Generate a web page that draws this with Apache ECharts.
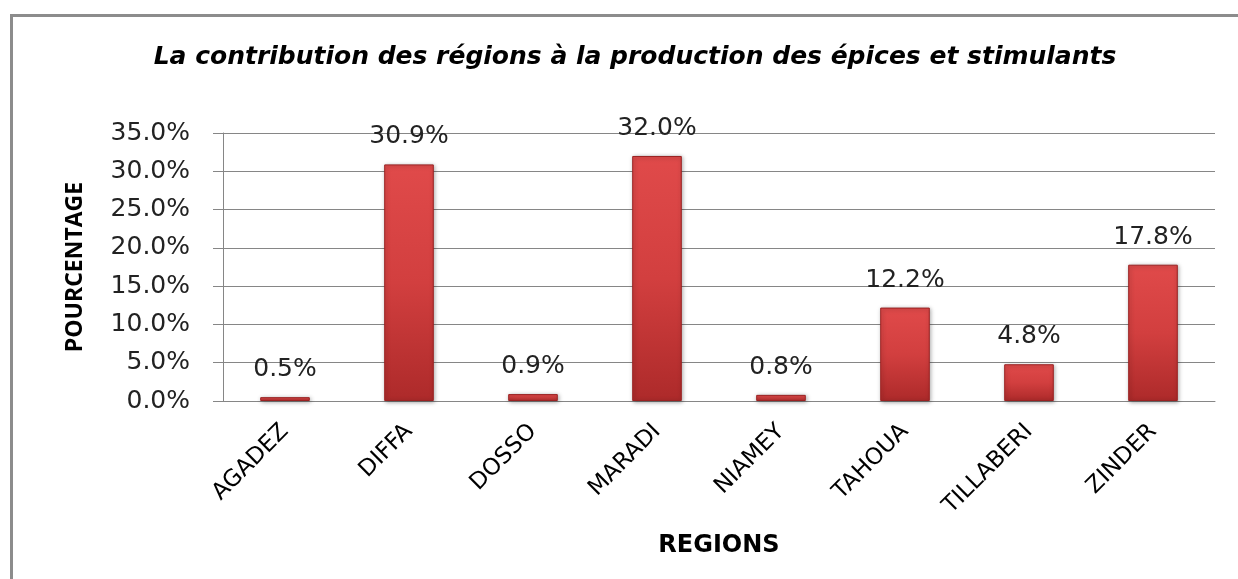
<!DOCTYPE html>
<html>
<head>
<meta charset="utf-8">
<script src="https://cdn.jsdelivr.net/npm/echarts@6/dist/echarts.min.js"></script>
<style>
html,body{margin:0;padding:0;background:#fff;}
#chart{width:1238px;height:579px;}
</style>
</head>
<body>
<div id="chart"></div>
<script>
const titleText = 'La contribution des régions à la production des épices et stimulants';
const categories = ['AGADEZ','DIFFA','DOSSO','MARADI','NIAMEY','TAHOUA','TILLABERI','ZINDER'];
const values = [0.5, 30.9, 0.9, 32.0, 0.8, 12.2, 4.8, 17.8];
const yAxisName = 'POURCENTAGE';
const xAxisName = 'REGIONS';

const chart = echarts.init(document.getElementById('chart'));
chart.setOption({
  backgroundColor: '#ffffff',
  animation: false,
  title: {
    text: titleText,
    left: 630,
    textAlign: 'center',
    top: 40,
    textStyle: {
      fontFamily: 'DejaVu Sans',
      fontStyle: 'italic',
      fontWeight: 'bold',
      fontSize: 25,
      color: '#000'
    }
  },
  graphic: [
    { type: 'line', shape: { x1: 10, y1: 15.5, x2: 1238, y2: 15.5 }, style: { stroke: '#8c8c8c', lineWidth: 3 } },
    { type: 'line', shape: { x1: 11.5, y1: 14, x2: 11.5, y2: 579 }, style: { stroke: '#8c8c8c', lineWidth: 3 } }
  ],
  grid: { left: 223, right: 23, top: 133, bottom: 178 },
  xAxis: {
    type: 'category',
    data: categories,
    name: xAxisName,
    nameLocation: 'middle',
    nameGap: 133,
    nameTextStyle: { fontFamily: 'DejaVu Sans', fontWeight: 'bold', fontSize: 24, color: '#000' },
    axisLine: { lineStyle: { color: '#868686', width: 1 } },
    axisTick: { show: false },
    axisLabel: {
      rotate: 45,
      margin: 27,
      interval: 0,
      fontFamily: 'DejaVu Sans',
      fontSize: 23,
      color: '#000'
    }
  },
  yAxis: {
    type: 'value',
    min: 0,
    max: 35,
    interval: 5,
    name: yAxisName,
    nameLocation: 'middle',
    nameGap: 136,
    nameTextStyle: { fontFamily: 'Open Sans', fontWeight: 'bold', fontSize: 23, color: '#000' },
    axisLine: { show: true, lineStyle: { color: '#868686', width: 1 } },
    axisTick: { show: true, length: 10, lineStyle: { color: '#868686' } },
    splitLine: { lineStyle: { color: '#868686', width: 1 } },
    axisLabel: {
      margin: 33,
      fontFamily: 'DejaVu Sans',
      fontSize: 25,
      color: '#222',
      formatter: v => v.toFixed(1) + '%'
    }
  },
  series: [{
    type: 'bar',
    data: values,
    barWidth: '40%',
    itemStyle: {
      color: {
        type: 'linear', x: 0, y: 0, x2: 0, y2: 1,
        colorStops: [
          { offset: 0, color: '#e04a4a' },
          { offset: 0.5, color: '#d23f3f' },
          { offset: 1, color: '#ad2a2a' }
        ]
      },
      borderColor: '#9a2222',
      borderWidth: 1,
      shadowColor: 'rgba(0,0,0,0.35)',
      shadowBlur: 4,
      shadowOffsetX: 1,
      shadowOffsetY: 1
    },
    label: {
      show: true,
      position: 'top',
      distance: 15,
      fontFamily: 'DejaVu Sans',
      fontSize: 25,
      color: '#222',
      formatter: p => p.value.toFixed(1) + '%'
    }
  }]
});
</script>
</body>
</html>
